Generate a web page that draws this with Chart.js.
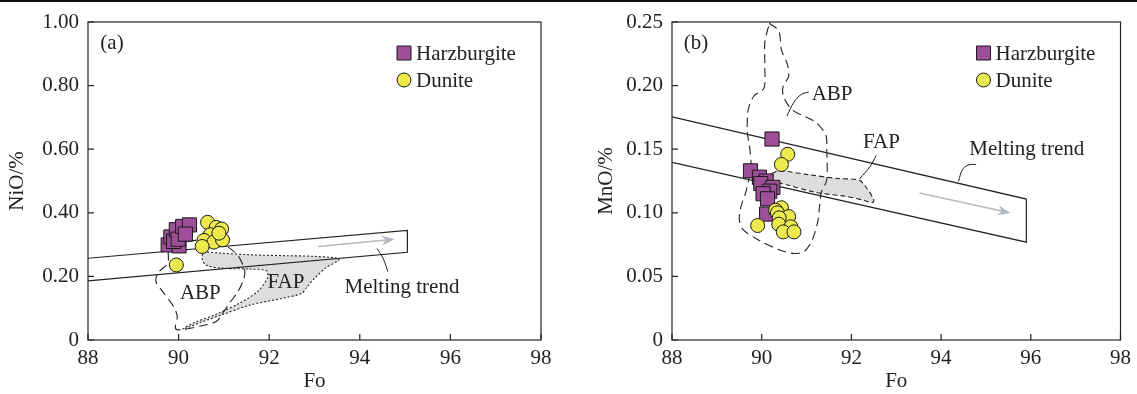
<!DOCTYPE html>
<html>
<head>
<meta charset="utf-8">
<script src="https://cdn.jsdelivr.net/npm/chart.js@4.4.0/dist/chart.umd.min.js"></script>
<style>
  html, body { margin: 0; padding: 0; background: #fff; }
  body { width: 1137px; height: 394px; position: relative; overflow: hidden; }
  .rule { position: absolute; left: 0; top: 0; width: 1137px; height: 2px; background: #111; }
  #panelA { position: absolute; left: 0; top: 0; }
  #panelB { position: absolute; left: 560px; top: 0; }
</style>
</head>
<body>
<div class="rule"></div>
<canvas id="panelA" width="560" height="394"></canvas>
<canvas id="panelB" width="577" height="394"></canvas>
<script>
// axis ticks
const foTicks = [88, 90, 92, 94, 96, 98];
const nioTicks = [0, 0.2, 0.4, 0.6, 0.8, 1.0];
const mnoTicks = [0, 0.05, 0.1, 0.15, 0.2, 0.25];

// (a) NiO vs Fo  — [Fo, NiO]
const harzNiO = [[89.77, 0.299], [90.01, 0.296], [89.83, 0.324], [89.89, 0.310], [89.95, 0.347],
                 [89.99, 0.317], [90.09, 0.357], [90.24, 0.362], [90.15, 0.333]];
const duniteNiO = [[90.64, 0.370], [90.83, 0.354], [90.95, 0.349], [90.70, 0.331], [90.56, 0.313],
                   [90.78, 0.308], [90.97, 0.315], [90.89, 0.336], [90.52, 0.294], [89.95, 0.236]];
const bandNiO = [[88, 0.257], [95.05, 0.345], [95.05, 0.276], [88, 0.186]];
const arrowNiO = [[93.08, 0.294], [94.77, 0.317]];
const abpNiO = [[89.77, 0.278], [89.76, 0.242], [89.54, 0.210], [89.50, 0.184], [89.65, 0.152],
                [89.89, 0.105], [89.97, 0.074], [89.93, 0.037], [90.05, 0.032], [90.48, 0.044],
                [90.83, 0.058], [90.97, 0.084], [91.15, 0.121], [91.31, 0.152], [91.43, 0.189],
                [91.46, 0.218], [91.31, 0.265], [91.00, 0.299], [90.48, 0.315], [89.85, 0.294]];
const fapNiO = [[90.54, 0.278], [90.95, 0.273], [91.58, 0.268], [92.37, 0.265], [93.00, 0.263],
                [93.54, 0.254], [93.24, 0.226], [93.00, 0.194], [92.84, 0.168], [92.72, 0.147],
                [92.29, 0.131], [91.58, 0.110], [90.95, 0.079], [90.48, 0.055], [90.09, 0.034],
                [90.32, 0.053], [90.80, 0.079], [91.35, 0.116], [91.74, 0.152], [91.96, 0.194],
                [91.94, 0.218], [91.58, 0.223], [90.95, 0.226], [90.60, 0.236], [90.52, 0.257]];
const trendLeaderNiO = [[94.38, 0.288], [94.52, 0.255], [94.62, 0.215]];

// (b) MnO vs Fo  — [Fo, MnO]
const harzMnO = [[90.23, 0.158], [89.75, 0.133], [89.95, 0.128], [90.10, 0.125], [89.98, 0.123],
                 [90.25, 0.120], [90.18, 0.117], [90.03, 0.115], [90.13, 0.111], [90.11, 0.099]];
const duniteMnO = [[90.58, 0.146], [90.44, 0.138], [90.44, 0.104], [90.31, 0.102], [90.35, 0.100],
                   [90.60, 0.097], [90.39, 0.096], [90.38, 0.091], [89.91, 0.090], [90.65, 0.089],
                   [90.48, 0.085], [90.72, 0.085]];
const bandMnO = [[88, 0.1754], [95.9, 0.1108], [95.9, 0.0769], [88, 0.1397]];
const arrowMnO = [[93.52, 0.1155], [95.55, 0.0998]];
const abpMnO = [[90.17, 0.249], [90.38, 0.243], [90.44, 0.228], [90.57, 0.217], [90.60, 0.207],
                [90.48, 0.200], [90.48, 0.192], [90.68, 0.181], [91.21, 0.171], [91.43, 0.161],
                [91.45, 0.150], [91.45, 0.126], [91.33, 0.116], [91.29, 0.105], [91.25, 0.093],
                [91.13, 0.079], [90.96, 0.070], [90.72, 0.068], [90.39, 0.071], [89.91, 0.079],
                [89.58, 0.087], [89.50, 0.095], [89.54, 0.105], [89.66, 0.118], [89.76, 0.137],
                [89.73, 0.152], [89.68, 0.163], [89.70, 0.181], [89.83, 0.192], [90.05, 0.198],
                [90.07, 0.215], [90.07, 0.234]];
const fapMnO = [[90.23, 0.131], [90.39, 0.133], [91.04, 0.130], [91.69, 0.127], [92.18, 0.1255],
                [92.34, 0.1195], [92.50, 0.110], [92.46, 0.108], [92.26, 0.110], [91.86, 0.113],
                [91.21, 0.116], [90.56, 0.122], [90.27, 0.125], [90.22, 0.129]];
const abpLeaderMnO = [[90.56, 0.176], [90.72, 0.187], [90.88, 0.193], [91.05, 0.195]];
const fapLeaderMnO = [[92.18, 0.1266], [92.42, 0.1366], [92.55, 0.145]];
const trendLeaderMnO = [[94.39, 0.1247], [94.47, 0.1335], [94.60, 0.1375], [94.78, 0.138]];

const INK = '#222';
const PURPLE = '#9d4f98';
const YELLOW = '#ecea4c';
const FONT = { family: '"Liberation Serif", "Times New Roman", serif', size: 21 };

const xy = pts => pts.map(p => ({ x: p[0], y: p[1] }));
const closed = pts => pts.concat([pts[0]]);

function outline(pts, extra) {
  return Object.assign({
    type: 'scatter', data: xy(pts), showLine: true, pointRadius: 0, pointHoverRadius: 0,
    borderColor: INK, borderWidth: 1.1, tension: 0, fill: false, order: 5
  }, extra);
}

// frame, inward ticks, text notes, legend and arrow
const decor = {
  id: 'decor',
  afterDatasetsDraw(chart, args, o) {
    const { ctx, chartArea: a, scales: { x, y } } = chart;
    ctx.save();
    ctx.strokeStyle = INK;
    ctx.lineWidth = 1.2;
    ctx.strokeRect(a.left, a.top, a.right - a.left, a.bottom - a.top);
    ctx.beginPath();
    x.ticks.forEach(t => {
      const px = x.getPixelForValue(t.value);
      ctx.moveTo(px, a.bottom); ctx.lineTo(px, a.bottom - 6);
    });
    y.ticks.forEach(t => {
      const py = y.getPixelForValue(t.value);
      ctx.moveTo(a.left, py); ctx.lineTo(a.left + 6, py);
    });
    ctx.stroke();

    // trend arrow
    const [p0, p1] = o.arrow.map(p => [x.getPixelForValue(p[0]), y.getPixelForValue(p[1])]);
    const ang = Math.atan2(p1[1] - p0[1], p1[0] - p0[0]);
    ctx.strokeStyle = '#b4bac0';
    ctx.fillStyle = '#b4bac0';
    ctx.lineWidth = 1.6;
    ctx.beginPath();
    ctx.moveTo(p0[0], p0[1]);
    ctx.lineTo(p1[0] - 8 * Math.cos(ang), p1[1] - 8 * Math.sin(ang));
    ctx.stroke();
    ctx.beginPath();
    ctx.moveTo(p1[0], p1[1]);
    ctx.lineTo(p1[0] - 13 * Math.cos(ang) + 5 * Math.sin(ang), p1[1] - 13 * Math.sin(ang) - 5 * Math.cos(ang));
    ctx.lineTo(p1[0] - 9 * Math.cos(ang), p1[1] - 9 * Math.sin(ang));
    ctx.lineTo(p1[0] - 13 * Math.cos(ang) - 5 * Math.sin(ang), p1[1] - 13 * Math.sin(ang) + 5 * Math.cos(ang));
    ctx.closePath();
    ctx.fill();

    ctx.font = FONT.size + 'px ' + FONT.family;
    ctx.fillStyle = INK;
    ctx.textBaseline = 'middle';
    ctx.textAlign = 'center';
    o.notes.forEach(n => {
      ctx.fillText(n.text, x.getPixelForValue(n.at[0]), y.getPixelForValue(n.at[1]));
    });
    ctx.fillText(o.tag, a.left + 24, a.top + 21);

    // legend
    ctx.textAlign = 'left';
    const lx = a.right - 137;
    const rows = [[a.top + 31, 'rect'], [a.top + 58, 'circle']];
    chart.data.datasets.slice(0, 2).forEach((ds, i) => {
      const [ly, shape] = rows[i];
      ctx.fillStyle = ds.backgroundColor;
      ctx.strokeStyle = '#1a1a1a';
      ctx.lineWidth = 1;
      ctx.beginPath();
      if (shape === 'rect') ctx.rect(lx - 7, ly - 7, 14, 14);
      else ctx.arc(lx, ly, 7, 0, Math.PI * 2);
      ctx.fill();
      ctx.stroke();
      ctx.fillStyle = INK;
      ctx.fillText(ds.label, lx + 12, ly + 1);
    });
    ctx.restore();
  }
};

function makePanel(id, p) {
  const datasets = [
    { type: 'scatter', label: 'Harzburgite', data: xy(p.harz), pointStyle: 'rect', pointRadius: 10,
      pointHoverRadius: 10, backgroundColor: PURPLE, borderColor: '#1a1a1a', borderWidth: 1, order: 1 },
    { type: 'scatter', label: 'Dunite', data: xy(p.dunite), pointStyle: 'circle', pointRadius: 7,
      pointHoverRadius: 7, backgroundColor: YELLOW, borderColor: '#1a1a1a', borderWidth: 1, order: 0 },
    outline(p.band, { borderWidth: 1.2, order: 3 }),
    outline(closed(p.fap), { borderDash: p.fapDash, backgroundColor: '#dddddd', fill: 'shape', tension: 0.3, order: 4 }),
    outline(closed(p.abp), { borderDash: [9, 5], tension: 0.3, order: 2 })
  ];
  p.leaders.forEach(l => datasets.push(outline(l, { tension: 0.4, borderWidth: 1, order: 2 })));

  return new Chart(document.getElementById(id), {
    type: 'scatter',
    data: { datasets },
    options: {
      responsive: false,
      animation: false,
      events: [],
      layout: { padding: { left: 0, right: p.padRight, top: 22, bottom: 0 } },
      plugins: {
        legend: { display: false },
        tooltip: { enabled: false },
        decor: { arrow: p.arrow, notes: p.notes, tag: p.tag }
      },
      scales: {
        x: {
          type: 'linear', min: 88, max: 98,
          afterBuildTicks: s => { s.ticks = foTicks.map(v => ({ value: v })); },
          afterFit: s => { s.height = 54; },
          grid: { display: false, drawTicks: false, tickLength: 0 },
          border: { display: false },
          ticks: { font: FONT, color: INK, padding: 6, maxRotation: 0, callback: v => String(v) },
          title: { display: true, text: 'Fo', font: FONT, color: INK, padding: { top: 0, bottom: 0 } }
        },
        y: {
          type: 'linear', min: 0, max: p.ymax,
          afterBuildTicks: s => { s.ticks = p.yTicks.map(v => ({ value: v })); },
          afterFit: s => { s.width = p.yWidth; },
          grid: { display: false, drawTicks: false, tickLength: 0 },
          border: { display: false },
          ticks: { font: FONT, color: INK, padding: 9, callback: v => v === 0 ? '0' : v.toFixed(2) },
          title: { display: true, text: p.yTitle, font: FONT, color: INK, padding: { top: p.titlePad, bottom: 0 } }
        }
      }
    },
    plugins: [decor]
  });
}

makePanel('panelA', {
  harz: harzNiO, dunite: duniteNiO, band: bandNiO, abp: abpNiO, fap: fapNiO, fapDash: [2, 2],
  leaders: [trendLeaderNiO], arrow: arrowNiO, ymax: 1.0, yTicks: nioTicks, yTitle: 'NiO/%',
  yWidth: 88, titlePad: 5, padRight: 19, tag: '(a)',
  notes: [
    { text: 'ABP', at: [90.48, 0.147] },
    { text: 'FAP', at: [92.37, 0.181] },
    { text: 'Melting trend', at: [94.93, 0.166] }
  ]
});

makePanel('panelB', {
  harz: harzMnO, dunite: duniteMnO, band: bandMnO, abp: abpMnO, fap: fapMnO, fapDash: [5, 3],
  leaders: [abpLeaderMnO, fapLeaderMnO, trendLeaderMnO], arrow: arrowMnO, ymax: 0.25, yTicks: mnoTicks,
  yTitle: 'MnO/%', yWidth: 112, titlePad: 34, padRight: 15, tag: '(b)',
  notes: [
    { text: 'ABP', at: [91.57, 0.193] },
    { text: 'FAP', at: [92.67, 0.155] },
    { text: 'Melting trend', at: [95.91, 0.150] }
  ]
});
</script>
</body>
</html>
